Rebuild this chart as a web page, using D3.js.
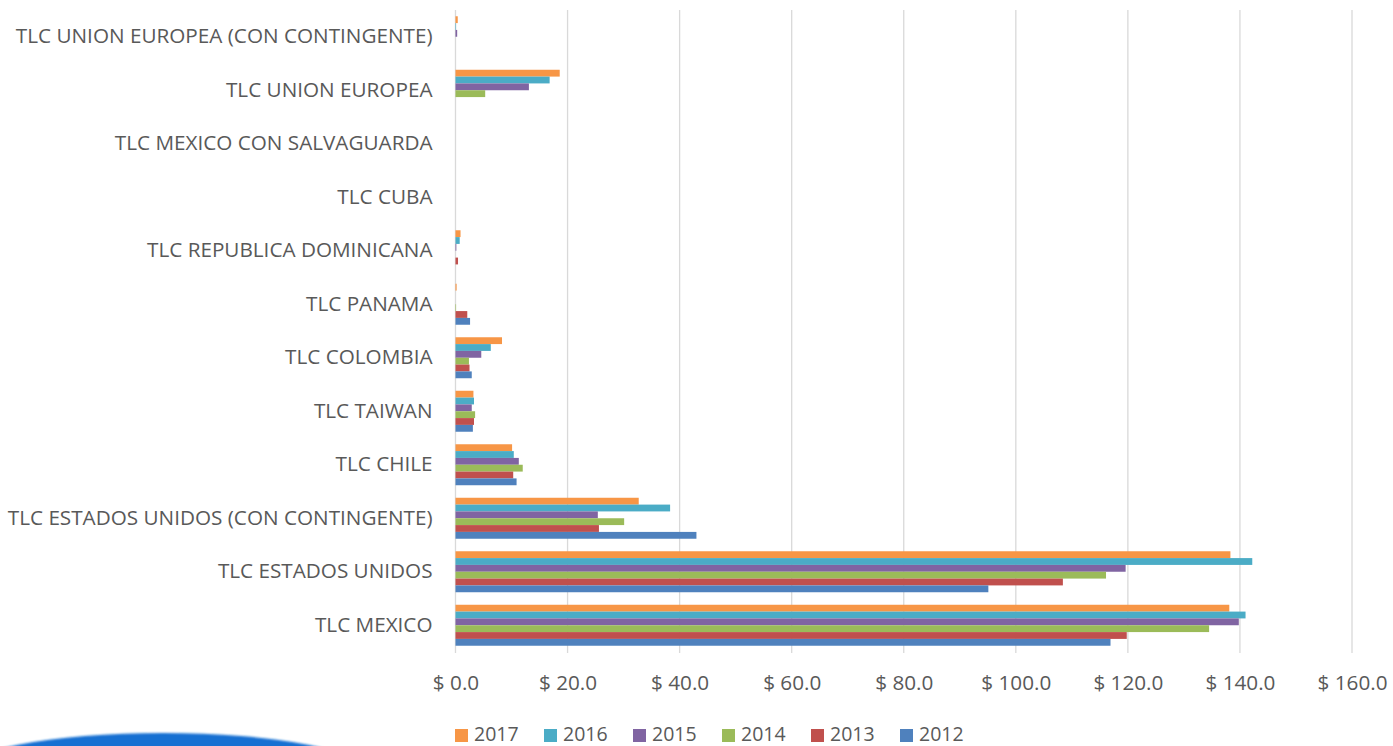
<!DOCTYPE html>
<html>
<head>
<meta charset="utf-8">
<script src="https://cdn.jsdelivr.net/npm/d3@7"></script>
<style>
  body { margin: 0; background: #fff; }
  svg { display: block; font-family: "Open Sans", sans-serif; }
</style>
</head>
<body>
<div id="chart"></div>
<script>
// categories, top to bottom
const categories = [
  "TLC UNION EUROPEA (CON CONTINGENTE)",
  "TLC UNION EUROPEA",
  "TLC MEXICO CON SALVAGUARDA",
  "TLC CUBA",
  "TLC REPUBLICA DOMINICANA",
  "TLC PANAMA",
  "TLC COLOMBIA",
  "TLC TAIWAN",
  "TLC CHILE",
  "TLC ESTADOS UNIDOS (CON CONTINGENTE)",
  "TLC ESTADOS UNIDOS",
  "TLC MEXICO"
]

// one array per year, same order as categories
const v2017 = [0.4, 18.6, 0, 0, 0.9, 0.2, 8.3, 3.2, 10.1, 32.7, 138.3, 138.1]
const v2016 = [0.1, 16.8, 0, 0, 0.75, 0, 6.3, 3.3, 10.4, 38.3, 142.2, 141.0]
const v2015 = [0.3, 13.1, 0, 0, 0.15, 0, 4.6, 2.9, 11.3, 25.4, 119.6, 139.8]
const v2014 = [0, 5.3, 0, 0, 0, 0.1, 2.4, 3.5, 12.0, 30.1, 116.1, 134.5]
const v2013 = [0, 0, 0, 0, 0.45, 2.1, 2.5, 3.3, 10.3, 25.6, 108.4, 119.8]
const v2012 = [0, 0, 0, 0, 0, 2.6, 2.9, 3.1, 10.9, 43.0, 95.1, 116.9]

const years = ["2017", "2016", "2015", "2014", "2013", "2012"]
const colors = ["#F79646", "#4BACC6", "#8064A2", "#9BBB59", "#C0504D", "#4F81BD"]
const xTicks = [0, 20, 40, 60, 80, 100, 120, 140, 160]

const series = [v2017, v2016, v2015, v2014, v2013, v2012]
const rows = []
categories.forEach((c, i) => {
  years.forEach((y, j) => rows.push({ cat: c, year: y, value: series[j][i], color: colors[j] }))
})

const width = 1393
const height = 746

const svg = d3.select("#chart")
  .append("svg")
  .attr("width", width)
  .attr("height", height)

// blurred blue logo piece in the bottom-left corner
const defs = svg.append("defs")
defs.append("filter").attr("id", "blur")
  .append("feGaussianBlur").attr("stdDeviation", 1.2)
svg.append("ellipse")
  .attr("cx", 163).attr("cy", 773)
  .attr("rx", 205).attr("ry", 40)
  .attr("fill", "#1570d2")
  .attr("filter", "url(#blur)")

const x = d3.scaleLinear().domain([0, 160]).range([455.5, 1352])

const y = d3.scaleBand()
  .domain(categories)
  .range([10, 652])
  .paddingInner(0.234)
  .paddingOuter(0.117)

const ySub = d3.scaleBand()
  .domain(years)
  .range([0, y.bandwidth()])

// gridlines
svg.append("g")
  .selectAll("line")
  .data(xTicks)
  .join("line")
  .attr("x1", d => x(d)).attr("x2", d => x(d))
  .attr("y1", 10).attr("y2", 653)
  .attr("stroke", "#d9d9d9")
  .attr("stroke-width", 1.3)

// bars
svg.append("g")
  .selectAll("rect")
  .data(rows)
  .join("rect")
  .attr("x", x(0))
  .attr("y", d => y(d.cat) + ySub(d.year))
  .attr("width", d => x(d.value) - x(0))
  .attr("height", ySub.bandwidth())
  .attr("fill", d => d.color)

// category labels
const yAxis = svg.append("g")
  .attr("transform", `translate(${x(0)},0)`)
  .call(d3.axisLeft(y).tickSize(0).tickPadding(23))
yAxis.select(".domain").remove()
yAxis.selectAll("text")
  .attr("fill", "#595959")
  .style("font-size", "20.7px")
  .style("font-family", "'Open Sans', sans-serif")

// value ticks
const xAxis = svg.append("g")
  .attr("transform", "translate(0,653)")
  .call(d3.axisBottom(x).tickValues(xTicks).tickSize(0).tickPadding(22)
    .tickFormat(d => "$ " + d3.format(".1f")(d)))
xAxis.select(".domain").remove()
xAxis.selectAll("text")
  .attr("fill", "#595959")
  .style("font-size", "20.7px")
  .style("font-family", "'Open Sans', sans-serif")

// legend
const legend = svg.append("g")
  .selectAll("g")
  .data(years)
  .join("g")
  .attr("transform", (d, i) => `translate(${455 + i * 89},0)`)

legend.append("rect")
  .attr("y", 729)
  .attr("width", 13)
  .attr("height", 13)
  .attr("fill", (d, i) => colors[i])

legend.append("text")
  .attr("x", 19)
  .attr("y", 741)
  .attr("fill", "#595959")
  .style("font-size", "19.5px")
  .text(d => d)
</script>
</body>
</html>
